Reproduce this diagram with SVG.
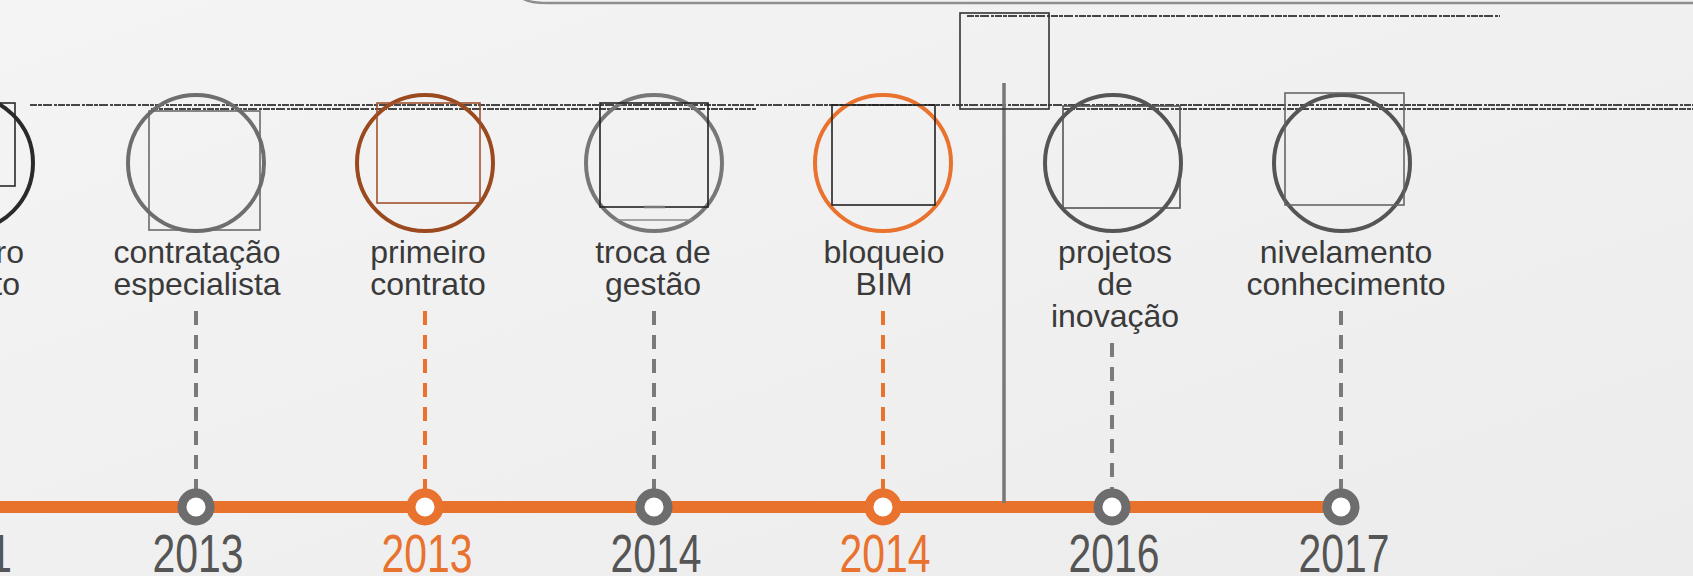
<svg xmlns="http://www.w3.org/2000/svg" width="1693" height="576" viewBox="0 0 1693 576">
<defs>
<linearGradient id="bg" x1="0" y1="0" x2="1" y2="1">
<stop offset="0" stop-color="#f4f4f4"/>
<stop offset="0.5" stop-color="#f0f0f0"/>
<stop offset="1" stop-color="#ececec"/>
</linearGradient>
<style>
.ring{fill:none;stroke-width:4}
.img{fill:none;stroke-width:1.6}
.lbl{font-family:"Liberation Sans",Arial,sans-serif;font-size:32px;fill:#3a3a3a;text-anchor:middle}
.yr{font-family:"Liberation Sans",Arial,sans-serif;font-size:54px;text-anchor:middle}
.g{fill:#555555}
.o{fill:#e8722e}
.dash{stroke-width:4;stroke-dasharray:14 10;fill:none}
.dg{stroke:#7a7a7a}
.do{stroke:#e8722e}
.mk{fill:#ffffff;stroke-width:9}
.tiny{stroke:#1a1a1a;stroke-width:1.8;fill:none;opacity:0.8;stroke-dasharray:7 1 4 1 9 2 3 1}
</style>
</defs>
<rect x="0" y="0" width="1693" height="576" fill="url(#bg)"/>
<path d="M522,-2 Q528,3 548,3 L1693,3" fill="none" stroke="#8e8e8e" stroke-width="2.5"/>

<g id="tiny-lines">
<path class="tiny" d="M30,105 L508,105"/>
<path class="tiny" d="M151,109 L756,109"/>
<path class="tiny" d="M508,105 L1693,105"/>
<path class="tiny" d="M1063,109 L1693,109" opacity="0.55"/>
<path class="tiny" d="M967,16 L1500,16"/>
</g>

<g id="connectors">
<line x1="0" y1="507" x2="1341" y2="507" stroke="#e8712c" stroke-width="12"/>
<line x1="1004" y1="83" x2="1004" y2="503" stroke="#777777" stroke-width="3.5"/>
<line class="dash dg" x1="196" y1="311" x2="196" y2="493"/>
<line class="dash do" x1="425" y1="311" x2="425" y2="493"/>
<line class="dash dg" x1="654" y1="311" x2="654" y2="493"/>
<line class="dash do" x1="883" y1="311" x2="883" y2="493"/>
<line class="dash dg" x1="1112" y1="343" x2="1112" y2="493"/>
<line class="dash dg" x1="1341" y1="311" x2="1341" y2="493"/>
</g>

<g id="top-image">
<rect class="img" x="960" y="13" width="89" height="96" stroke="#333333"/>
</g>

<g id="node-1">
<circle class="ring" cx="-35" cy="163" r="68" stroke="#2a2a2a"/>
<rect class="img" x="-90" y="103" width="105" height="83" stroke="#2a2a2a"/>
<text class="lbl" x="24" y="263" style="text-anchor:end">ro</text>
<text class="lbl" x="20" y="295" style="text-anchor:end">to</text>
<text class="yr g" x="-11" y="572" style="text-anchor:start" textLength="23" lengthAdjust="spacingAndGlyphs">1</text>
</g>

<g id="node-2">
<circle class="ring" cx="196" cy="163" r="68" stroke="#6e6e6e"/>
<rect class="img" x="149" y="111" width="111" height="119" stroke="#6a6a6a"/>
<text class="lbl" x="197" y="263">contratação</text>
<text class="lbl" x="197" y="295">especialista</text>
<circle class="mk" cx="196" cy="507" r="14" stroke="#6d6d6d"/>
<text class="yr g" x="198" y="572" textLength="91" lengthAdjust="spacingAndGlyphs">2013</text>
</g>

<g id="node-3">
<circle class="ring" cx="425" cy="163" r="68" stroke="#9b4a1f"/>
<rect class="img" x="377" y="103" width="103" height="100" stroke="#a0522d"/>
<text class="lbl" x="428" y="263">primeiro</text>
<text class="lbl" x="428" y="295">contrato</text>
<circle class="mk" cx="425" cy="507" r="14" stroke="#e8722e"/>
<text class="yr o" x="427" y="572" textLength="91" lengthAdjust="spacingAndGlyphs">2013</text>
</g>

<g id="node-4">
<circle class="ring" cx="654" cy="163" r="68" stroke="#777777"/>
<rect class="img" x="600" y="103" width="108" height="104" stroke="#222222"/>
<line x1="614" y1="220" x2="694" y2="220" stroke="#888888" stroke-width="1.5"/>
<line x1="644" y1="207" x2="665" y2="207" stroke="#777777" stroke-width="2.5"/>
<text class="lbl" x="653" y="263">troca de</text>
<text class="lbl" x="653" y="295">gestão</text>
<circle class="mk" cx="654" cy="507" r="14" stroke="#6d6d6d"/>
<text class="yr g" x="656" y="572" textLength="91" lengthAdjust="spacingAndGlyphs">2014</text>
</g>

<g id="node-5">
<circle class="ring" cx="883" cy="163" r="68" stroke="#e8722e"/>
<rect class="img" x="832" y="105" width="103" height="100" stroke="#222222"/>
<text class="lbl" x="884" y="263">bloqueio</text>
<text class="lbl" x="884" y="295">BIM</text>
<circle class="mk" cx="883" cy="507" r="14" stroke="#e8722e"/>
<text class="yr o" x="885" y="572" textLength="91" lengthAdjust="spacingAndGlyphs">2014</text>
</g>

<g id="node-6">
<circle class="ring" cx="1113" cy="163" r="68" stroke="#555555"/>
<rect class="img" x="1063" y="106" width="117" height="102" stroke="#555555"/>
<text class="lbl" x="1115" y="263">projetos</text>
<text class="lbl" x="1115" y="295">de</text>
<text class="lbl" x="1115" y="327">inovação</text>
<circle class="mk" cx="1112" cy="507" r="14" stroke="#6d6d6d"/>
<text class="yr g" x="1114" y="572" textLength="91" lengthAdjust="spacingAndGlyphs">2016</text>
</g>

<g id="node-7">
<circle class="ring" cx="1342" cy="163" r="68" stroke="#555555"/>
<rect class="img" x="1285" y="93" width="119" height="112" stroke="#666666"/>
<text class="lbl" x="1346" y="263">nivelamento</text>
<text class="lbl" x="1346" y="295">conhecimento</text>
<circle class="mk" cx="1341" cy="507" r="14" stroke="#6d6d6d"/>
<text class="yr g" x="1344" y="572" textLength="91" lengthAdjust="spacingAndGlyphs">2017</text>
</g>
</svg>
